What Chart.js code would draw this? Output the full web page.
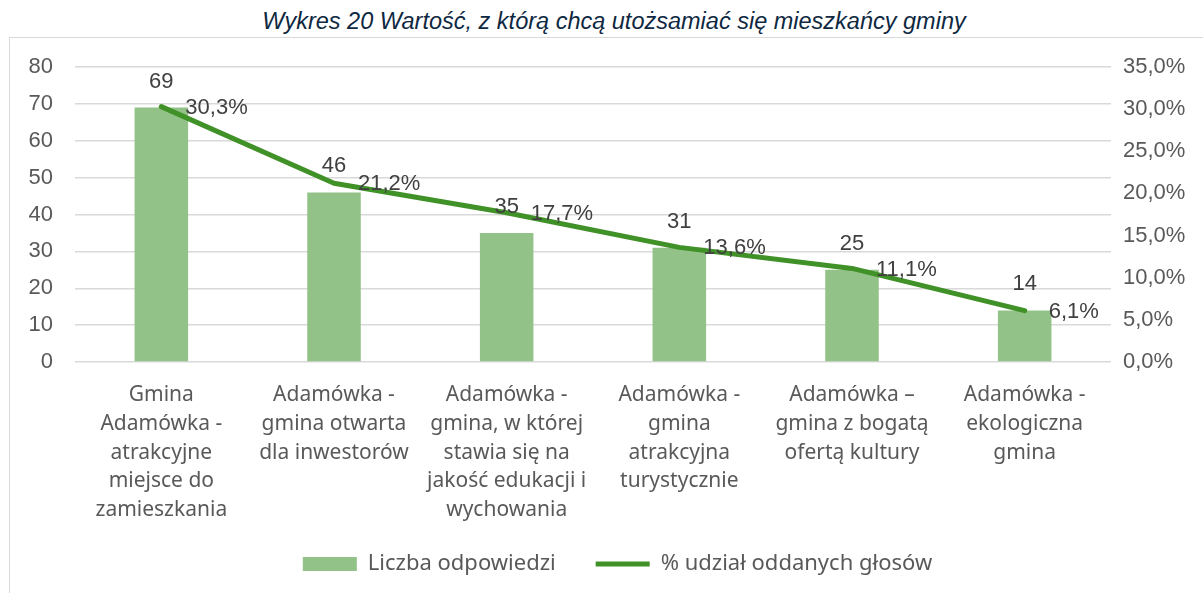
<!DOCTYPE html>
<html lang="pl">
<head>
    <meta charset="UTF-8">
    <title>Wykres 20</title>
    <script src="https://cdn.jsdelivr.net/npm/chart.js"></script>
</head>
<style>
    body { margin: 0; background: #fff; }
    .wrap { position: relative; width: 1203px; height: 593px; overflow: hidden; }
    .title {
        position: absolute; left: 0; width: 1228px; top: 8px; text-align: center;
        font: italic 23.5px "Liberation Sans", Arial, sans-serif; color: #0e2841;
    }
    .box {
        position: absolute; left: 9px; top: 37px; width: 1210px; height: 600px;
        border: 1.5px solid #d9d9d9;
    }
    canvas { position: absolute; left: 0; top: 0; }
</style>
<body>
    <div class="wrap">
        <div class="title">Wykres 20 Wartość, z którą chcą utożsamiać się mieszkańcy gminy</div>
        <div class="box"></div>
        <canvas id="chart" width="1203" height="593"></canvas>
    </div>

    <script>
        // dane z wykresu
        const categories = [
            ['Gmina', 'Adamówka -', 'atrakcyjne', 'miejsce do', 'zamieszkania'],
            ['Adamówka -', 'gmina otwarta', 'dla inwestorów'],
            ['Adamówka -', 'gmina, w której', 'stawia się na', 'jakość edukacji i', 'wychowania'],
            ['Adamówka -', 'gmina', 'atrakcyjna', 'turystycznie'],
            ['Adamówka –', 'gmina z bogatą', 'ofertą kultury'],
            ['Adamówka -', 'ekologiczna', 'gmina']
        ];
        const counts = [69, 46, 35, 31, 25, 14];
        const shares = [30.3, 21.2, 17.7, 13.6, 11.1, 6.1];
        const countTicks = [0, 80, 10];   // min, max, step
        const shareTicks = [0, 35, 5];

        const numFont = { family: '"Liberation Sans", Arial, sans-serif', size: 22 };
        const fmtPct = v => v.toFixed(1).replace('.', ',') + '%';

        // etykiety danych rysowane przy elementach
        const valueLabels = {
            id: 'valueLabels',
            afterDatasetsDraw(chart) {
                const ctx = chart.ctx;
                ctx.save();
                ctx.font = '22px "Liberation Sans", Arial, sans-serif';
                ctx.fillStyle = '#404040';
                ctx.textBaseline = 'middle';
                chart.getDatasetMeta(0).data.forEach((bar, i) => {
                    ctx.textAlign = 'center';
                    ctx.fillText(String(counts[i]), bar.x, bar.y - 26);
                });
                chart.getDatasetMeta(1).data.forEach((pt, i) => {
                    ctx.textAlign = 'left';
                    ctx.fillText(fmtPct(shares[i]), pt.x + 24, pt.y + 1);
                });
                ctx.restore();
            }
        };

        // legenda troche wyzej i w prawo, zeby nie zachodzila na etykiety osi
        const legendShift = {
            id: 'legendShift',
            afterLayout(chart) {
                const lg = chart.legend;
                lg.top -= 8;
                lg.bottom -= 8;
                lg.left += 16;
                lg.right += 16;
            }
        };

        new Chart(document.getElementById('chart'), {
            data: {
                labels: categories,
                datasets: [
                    {
                        type: 'bar',
                        label: 'Liczba odpowiedzi',
                        data: counts,
                        backgroundColor: '#92c287',
                        yAxisID: 'y',
                        order: 1,
                        pointStyle: 'rect',
                        categoryPercentage: 1,
                        barPercentage: 0.31
                    },
                    {
                        type: 'line',
                        label: '% udział oddanych głosów',
                        data: shares,
                        borderColor: '#409128',
                        backgroundColor: '#409128',
                        borderWidth: 5,
                        borderCapStyle: 'round',
                        borderJoinStyle: 'round',
                        pointRadius: 0,
                        pointStyle: 'line',
                        yAxisID: 'y1',
                        order: 0
                    }
                ]
            },
            options: {
                responsive: false,
                animation: false,
                layout: { padding: { top: 67, left: 0, right: 0, bottom: 0 } },
                scales: {
                    x: {
                        grid: { display: false },
                        border: { display: false },
                        ticks: {
                            color: '#595959',
                            padding: 11,
                            maxRotation: 0,
                            autoSkip: false,
                            font: { family: '"Noto Sans", sans-serif', size: 21, lineHeight: 1.367 }
                        },
                        afterFit(s) { s.height = 159; }
                    },
                    y: {
                        position: 'left',
                        min: countTicks[0], max: countTicks[1],
                        grid: { color: '#d9d9d9', lineWidth: 1.5, drawTicks: false },
                        border: { display: false },
                        ticks: { stepSize: countTicks[2], color: '#595959', padding: 22, font: numFont },
                        afterFit(s) { s.width = 75; }
                    },
                    y1: {
                        position: 'right',
                        min: shareTicks[0], max: shareTicks[1],
                        grid: { display: false, drawTicks: false },
                        border: { display: false },
                        ticks: { stepSize: shareTicks[2], color: '#595959', padding: 12, font: numFont, callback: v => fmtPct(v) },
                        afterFit(s) { s.width = 92; }
                    }
                },
                plugins: {
                    legend: {
                        position: 'bottom',
                        labels: {
                            usePointStyle: true,
                            pointStyleWidth: 54,
                            boxHeight: 14,
                            padding: 40,
                            color: '#595959',
                            font: { family: '"Noto Sans", sans-serif', size: 22 },
                            sort: (a, b) => a.datasetIndex - b.datasetIndex
                        }
                    },
                    tooltip: { enabled: false }
                }
            },
            plugins: [valueLabels, legendShift]
        });
    </script>
</body>
</html>
